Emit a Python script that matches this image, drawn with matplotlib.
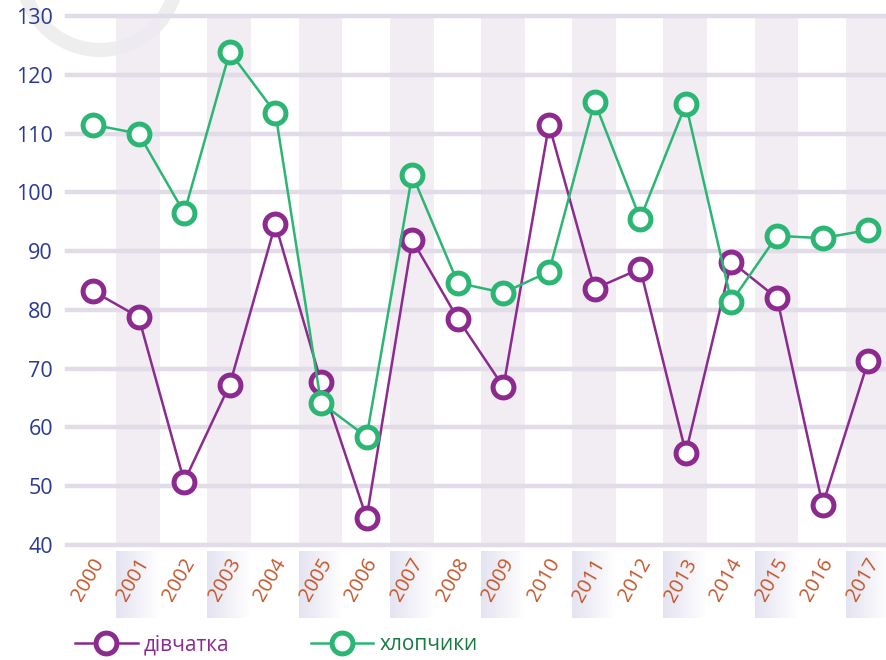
import numpy as np
import matplotlib
matplotlib.use('Agg')
import matplotlib.pyplot as plt
from matplotlib.transforms import blended_transform_factory, ScaledTranslation
from matplotlib.patches import Wedge

years = list(range(2000, 2018))
girls = [83.2, 78.8, 50.8, 67.3, 94.6, 67.8, 44.6, 91.9, 78.5,
         66.9, 111.5, 83.6, 87.0, 55.7, 88.2, 82.0, 46.8, 71.3]
boys = [111.5, 110.0, 96.5, 123.9, 113.5, 64.2, 58.4, 103.0, 84.6,
        82.9, 86.5, 115.4, 95.5, 115.0, 81.4, 92.6, 92.2, 93.6]
y_ticks = [40, 50, 60, 70, 80, 90, 100, 110, 120, 130]
labels = ['дівчатка', 'хлопчики']

PURPLE = '#8c2a8f'
GREEN = '#2bb673'
GREEN_TEXT = '#177a42'
BAND = '#efeaf2'
GRID = '#e2dbe8'

plt.rcParams['font.family'] = ['Open Sans', 'DejaVu Sans']

fig = plt.figure(figsize=(8.86, 6.6), dpi=100)
ax = fig.add_axes([67 / 886, 115 / 660, 819 / 886, 529 / 660])
ax.set_facecolor('none')

# decorative arc in the top-left corner (inches)
arc = Wedge((1.0, 6.6 + 0.275), 0.845, 180, 360, width=0.14,
            transform=fig.dpi_scale_trans, facecolor='#eeeeee', edgecolor='none', zorder=-1)
fig.add_artist(arc)

x = np.arange(len(years))

# shaded columns for odd years, plus gradient boxes behind their tick labels
trans = blended_transform_factory(ax.transData, ax.transAxes)
grad = np.linspace(0, 1, 64).reshape(1, -1)
cmap = matplotlib.colors.LinearSegmentedColormap.from_list('g', ['#e4e3f1', '#ffffff'])
for i, yr in enumerate(years):
    if yr % 2 == 1:
        ax.axvspan(i - 0.49, i + 0.47, color=BAND, alpha=0.85, lw=0, zorder=0)
        ax.imshow(grad, cmap=cmap, extent=[i - 0.49, i + 0.47, -0.138, -0.013],
                  transform=trans, aspect='auto', clip_on=False, zorder=0)

for v in y_ticks:
    ax.axhline(v, color=GRID, lw=3.2, zorder=1, clip_on=False)

ax.plot(x, girls, color=PURPLE, lw=1.8, marker='o', ms=15, mfc='white',
        mec=PURPLE, mew=3.6, zorder=3, label=labels[0])
ax.plot(x, boys, color=GREEN, lw=1.8, marker='o', ms=15, mfc='white',
        mec=GREEN, mew=3.6, zorder=3, label=labels[1])

ax.set_xlim(-0.57, 17.39)
ax.set_ylim(40, 130)
ax.set_yticks(y_ticks)
ax.set_yticklabels([str(v) for v in y_ticks], color='#2b3990', fontsize=15.5)
ax.set_xticks(x)
ax.set_xticklabels([])
# year labels, nudged a few pixels left of the tick as in the original
label_trans = trans + ScaledTranslation(-5 / 100, -10 / 100, fig.dpi_scale_trans)
for i, yr in enumerate(years):
    ax.text(i, 0, str(yr), transform=label_trans, rotation=60, color='#c4562a',
            fontsize=14.5, ha='center', va='top')
ax.tick_params(axis='both', length=0)
ax.tick_params(axis='y', pad=10)
for s in ax.spines.values():
    s.set_visible(False)

leg = fig.legend(handles=ax.get_lines()[-2:], loc='center left',
                 bbox_to_anchor=(75 / 886, 15 / 660), bbox_transform=fig.transFigure,
                 ncol=2, frameon=False, fontsize=15, handlelength=3.0,
                 handletextpad=0.3, columnspacing=3.9, borderpad=0, borderaxespad=0,
                 labelcolor=[PURPLE, GREEN_TEXT])

fig.savefig('out.png', dpi=100)
